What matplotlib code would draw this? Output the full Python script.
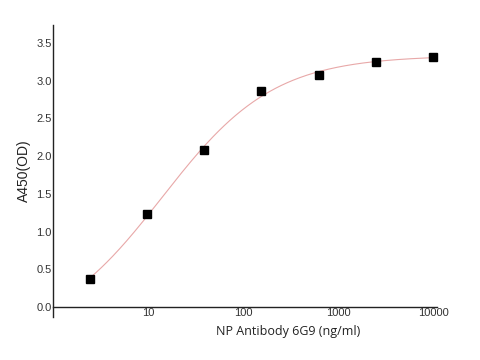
import numpy as np
import matplotlib
matplotlib.use("Agg")
import matplotlib.pyplot as plt

# Data (4-fold dilutions)
conc = [2.44, 9.77, 39.06, 156.25, 625, 2500, 10000]
od = [0.375, 1.23, 2.08, 2.865, 3.08, 3.245, 3.32]
xticks = [10, 100, 1000, 10000]
xticklabels = ["10", "100", "1000", "10000"]
yticks = [0.0, 0.5, 1.0, 1.5, 2.0, 2.5, 3.0, 3.5]

# 4PL fit by grid search (bottom/top solved linearly)
x = np.array(conc, float)
y = np.array(od, float)
best = None
for lc in np.linspace(0.3, 3.0, 271):
    for b in np.linspace(0.3, 3.0, 271):
        f = 1.0 / (1.0 + (10**lc / x) ** b)
        A = np.vstack([1 - f, f]).T
        coef, *_ = np.linalg.lstsq(A, y, rcond=None)
        r = np.sum((A @ coef - y) ** 2)
        if best is None or r < best[0]:
            best = (r, lc, b, coef)
_, lc, b, coef = best
xs = np.logspace(np.log10(x.min()), np.log10(x.max()), 300)
fs = 1.0 / (1.0 + (10**lc / xs) ** b)
ys = coef[0] * (1 - fs) + coef[1] * fs

fig = plt.figure(figsize=(4.8, 3.6), dpi=100)
ax = fig.add_axes([53/480, 43/360, 384/480, 292/360])
ax.plot(xs, ys, color="#e8a8a8", lw=0.8, zorder=2)
ax.plot(x, y, ls="none", marker="s", ms=5.2, color="black", zorder=3, clip_on=False)

ax.set_xscale("log")
ax.set_xlim(1, 10000 * 10 ** (4 / 95))
ax.set_ylim(-0.133, 3.74)
ax.spines["bottom"].set_position(("data", 0))
ax.spines["top"].set_visible(False)
ax.spines["right"].set_visible(False)
for s in ("left", "bottom"):
    ax.spines[s].set_linewidth(1.0)
    ax.spines[s].set_color("#222222")

ax.set_xticks(xticks)
ax.set_xticklabels(xticklabels)
ax.xaxis.set_minor_locator(matplotlib.ticker.NullLocator())
ax.set_yticks(yticks)
ax.set_yticklabels([f"{v:.1f}" for v in yticks])
ax.tick_params(axis="both", length=0, pad=1.0, labelsize=8, labelcolor="#333333")
for lab in ax.get_xticklabels() + ax.get_yticklabels():
    lab.set_family("Liberation Sans")

ax.set_ylabel("A450(OD)", fontsize=10, family="Liberation Sans", color="#222222", labelpad=4)
fig.text(288/480, 1 - 332/360, "NP Antibody 6G9 (ng/ml)", ha="center", va="center",
         fontsize=9, family="Open Sans", color="#222222")

fig.savefig("out.png", dpi=100)
